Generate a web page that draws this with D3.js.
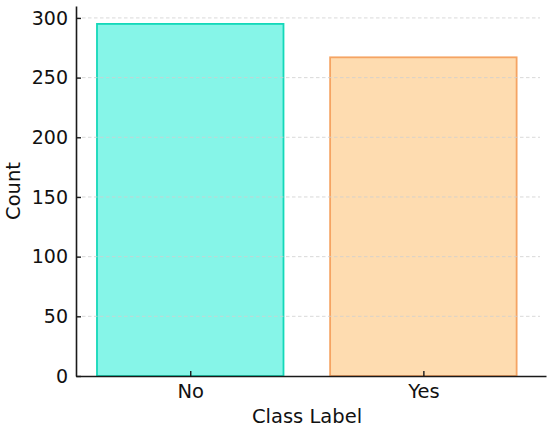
<!DOCTYPE html>
<html><head><meta charset="utf-8">
<script src="https://cdn.jsdelivr.net/npm/d3@7"></script>
<style>body{margin:0;background:#fff}svg{display:block}text{font-family:"DejaVu Sans",sans-serif;fill:#111}</style>
</head><body>
<svg id="c" width="550" height="432"></svg>
<script>
const categories = ["No", "Yes"];
const counts = [295, 267];
const fills = ["#86f5e8", "#fedcb0"];
const strokes = ["#14d8b9", "#f5a463"];
const yTicks = [0, 50, 100, 150, 200, 250, 300];

const svg = d3.select("#c");
const W = 550, H = 432;
const m = {l: 76, r: 4, t: 6, b: 56};
const x = d3.scaleLinear().domain([-0.49, 1.526]).range([m.l, W - m.r]);
const y = d3.scaleLinear().domain([0, 310]).range([H - m.b, m.t]);
const bw = x(0.4) - x(-0.4);

svg.selectAll("rect.bar").data(counts).enter().append("rect")
  .attr("x", (d, i) => x(i) - bw / 2)
  .attr("y", d => y(d))
  .attr("width", bw)
  .attr("height", d => y(0) - y(d))
  .attr("fill", (d, i) => fills[i])
  .attr("stroke", (d, i) => strokes[i])
  .attr("stroke-width", 1.8);

// grid
svg.selectAll("line.grid").data(yTicks.filter(t => t > 0)).enter().append("line")
  .attr("x1", m.l).attr("x2", 540)
  .attr("y1", d => y(d)).attr("y2", d => y(d))
  .attr("stroke", "#d0d0d0").attr("stroke-opacity", 0.8)
  .attr("stroke-width", 1).attr("stroke-dasharray", "3.5,2.5");

// y axis
const ya = svg.append("g").attr("transform", `translate(${m.l},0)`)
  .call(d3.axisLeft(y).tickValues(yTicks).tickSizeInner(-5).tickSizeOuter(0).tickPadding(8));
ya.select(".domain").attr("stroke", "#1a1a1a").attr("stroke-width", 1.6);
ya.selectAll(".tick line").attr("stroke", "#1a1a1a").attr("stroke-width", 1.4);
ya.selectAll(".tick text").attr("font-size", 19).attr("fill", "#111").attr("font-family", "DejaVu Sans");

// x axis
const xa = svg.append("g").attr("transform", `translate(0,${y(0)})`)
  .call(d3.axisBottom(x).tickValues([0, 1]).tickFormat(i => categories[i]).tickSizeInner(-5).tickSizeOuter(0).tickPadding(8));
xa.select(".domain").attr("stroke", "#1a1a1a").attr("stroke-width", 1.6);
xa.selectAll(".tick line").attr("stroke", "#1a1a1a").attr("stroke-width", 1.4);
xa.selectAll(".tick text").attr("font-size", 19.5).attr("fill", "#111").attr("font-family", "DejaVu Sans");

svg.append("text").attr("x", 307).attr("y", 423).attr("text-anchor", "middle")
  .attr("font-size", 19.5).text("Class Label");
svg.append("text").attr("transform", "translate(20,191) rotate(-90)").attr("text-anchor", "middle")
  .attr("font-size", 19.5).text("Count");
</script>
</body></html>
